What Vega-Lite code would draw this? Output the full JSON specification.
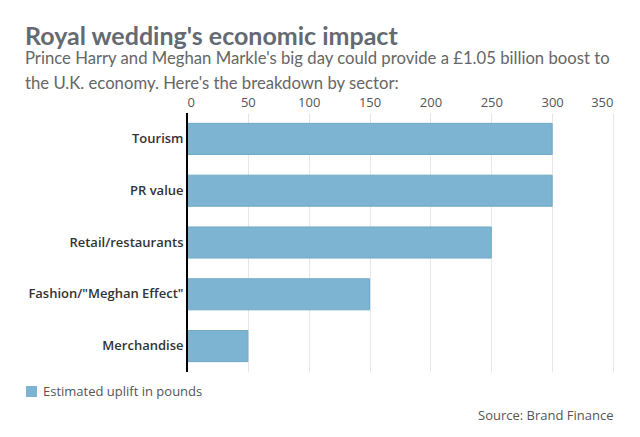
{
  "$schema": "https://vega.github.io/schema/vega-lite/v6.json",
  "width": 426,
  "height": 259,
  "autosize": "none",
  "padding": {"left": 187, "top": 113, "right": 27, "bottom": 65},
  "background": "white",
  "config": {"font": "Open Sans", "view": {"stroke": null}},
  "title": {
    "text": "Royal wedding's economic impact",
    "subtitle": ["Prince Harry and Meghan Markle's big day could provide a £1.05 billion boost to", "the U.K. economy. Here's the breakdown by sector:"],
    "anchor": "start",
    "frame": "group",
    "dx": -162,
    "offset": 3,
    "font": "Lato",
    "fontSize": 25,
    "fontWeight": "bold",
    "color": "#646a72",
    "subtitleFont": "Lato",
    "subtitleFontSize": 16.7,
    "subtitleColor": "#666666",
    "subtitleLineHeight": 25,
    "subtitlePadding": 1
  },
  "data": {
    "values": [
      {"sector": "Tourism", "value": 300, "series": "Estimated uplift in pounds"},
      {"sector": "PR value", "value": 300, "series": "Estimated uplift in pounds"},
      {"sector": "Retail/restaurants", "value": 250, "series": "Estimated uplift in pounds"},
      {"sector": "Fashion/\"Meghan Effect\"", "value": 150, "series": "Estimated uplift in pounds"},
      {"sector": "Merchandise", "value": 50, "series": "Estimated uplift in pounds"}
    ]
  },
  "resolve": {"axis": {"x": "independent"}},
  "layer": [
    {
      "mark": {"type": "bar", "stroke": "#6fa9c7", "strokeWidth": 1},
      "encoding": {
        "y": {
          "field": "sector", "type": "nominal", "sort": null,
          "scale": {"paddingInner": 0.4, "paddingOuter": 0.2},
          "axis": {"title": null, "ticks": false, "domain": false, "labelFontWeight": 600, "labelFontSize": 13, "labelColor": "#333333", "labelPadding": 4, "labelFont": "Open Sans"}
        },
        "x": {
          "field": "value", "type": "quantitative",
          "scale": {"domain": [0, 350], "nice": false},
          "axis": {"orient": "top", "title": null, "ticks": false, "domain": false, "values": [0, 50, 100, 150, 200, 250, 300, 350], "labelFontSize": 13, "labelColor": "#555555", "labelPadding": 4, "gridColor": "#e6e6e6", "gridWidth": 1, "labelFont": "Open Sans"}
        },
        "color": {
          "field": "series", "type": "nominal",
          "scale": {"range": ["#7cb4d1"]},
          "legend": {"title": null, "orient": "none", "legendX": -162, "legendY": 272, "symbolType": "square", "symbolSize": 121, "symbolStrokeWidth": 0, "labelFontSize": 13, "labelColor": "#555555", "labelFont": "Open Sans", "labelOffset": 5}
        }
      }
    },
    {
      "mark": {"type": "rule", "color": "#000000", "strokeWidth": 1.5},
      "encoding": {
        "x": {"datum": 0, "type": "quantitative", "axis": {"orient": "bottom", "labels": false, "ticks": false, "domain": false, "grid": false, "title": "Source: Brand Finance", "titleAnchor": "end", "titleAlign": "right", "titleFontWeight": "normal", "titleFontSize": 13, "titleColor": "#555555", "titleFont": "Open Sans", "titlePadding": 37}}
      }
    }
  ]
}
